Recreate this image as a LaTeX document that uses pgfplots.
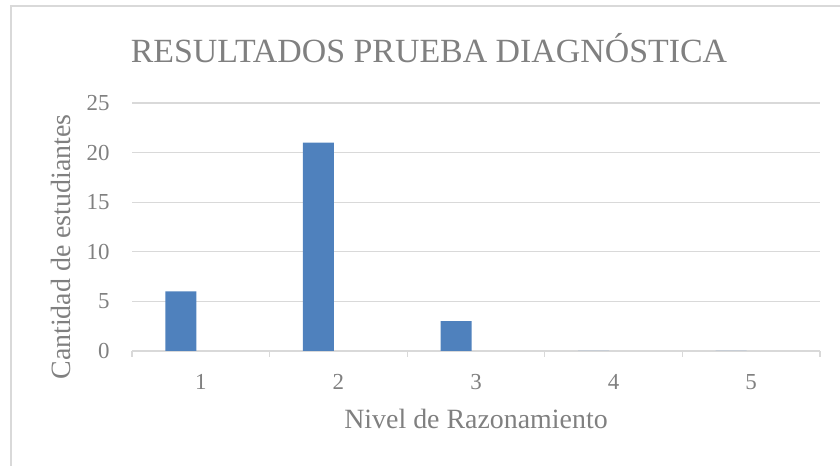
\documentclass[border=0pt]{standalone}
\usepackage{fontspec}
\setmainfont{Liberation Serif}
\usepackage{pgfplots}
\pgfplotsset{compat=1.18}
\definecolor{barblue}{HTML}{4F81BD}
\definecolor{txt}{HTML}{808080}
\definecolor{gridc}{HTML}{D9D9D9}
\begin{document}
\begin{tikzpicture}[x=1bp,y=1bp]
\path[use as bounding box] (0,0) rectangle (840,466);
\draw[gridc, line width=1.5bp] (11,-20) rectangle (860,460);
\begin{axis}[
  at={(132bp,115bp)}, anchor=south west,
  scale only axis, width=688bp, height=248bp,
  xmin=0.5, xmax=5.5, ymin=0, ymax=25,
  xtick={1,2,3,4,5}, ytick={0,5,10,15,20,25},
  minor xtick={0.5,1.5,2.5,3.5,4.5,5.5},
  major tick length=0pt, minor tick length=6bp,
  tick align=outside, xtick pos=left, ytick pos=left,
  every minor tick/.style={gridc, line width=1.3bp},
  axis line style={draw=none},
  /pgf/number format/assume math mode=true,
  ymajorgrids, grid style={gridc, line width=1.3bp},
  xticklabel style={font=\fontsize{23}{23}\selectfont, text=txt, yshift=-20bp},
  yticklabel style={font=\fontsize{23}{23}\selectfont, text=txt, xshift=-19bp},
  title={RESULTADOS PRUEBA DIAGNÓSTICA},
  title style={at={(axis description cs:0.4317,1.1613)}, anchor=base, yshift=-6pt, font=\fontsize{34}{34}\selectfont, text=txt},
  xlabel={Nivel de Razonamiento},
  xlabel style={at={(axis description cs:0.5,-0.3145)}, anchor=base, font=\fontsize{28}{28}\selectfont, text=txt},
  ylabel={Cantidad de estudiantes},
  ylabel style={at={(axis description cs:-0.1032,0.419)}, anchor=center, rotate=0, font=\fontsize{28}{28}\selectfont, text=txt},
]
\addplot[ybar, bar width=31bp, bar shift=-20bp, fill=barblue, draw=none]
  coordinates {(1,6) (2,21) (3,3) (4,0) (5,0)};
\end{axis}
\end{tikzpicture}
\end{document}
